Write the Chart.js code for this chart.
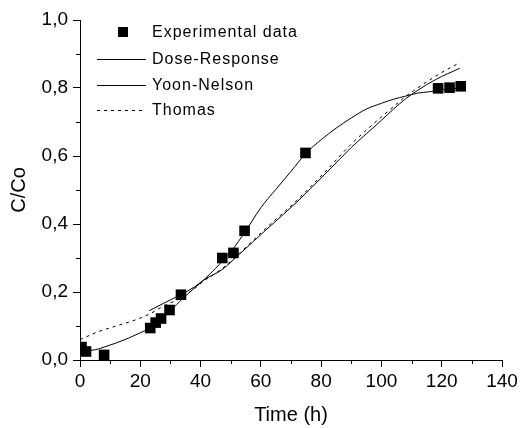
<!DOCTYPE html>
<html>
<head>
<meta charset="utf-8">
<script src="https://cdn.jsdelivr.net/npm/chart.js@4"></script>
<style>
  html, body { margin: 0; padding: 0; background: #fff; }
  #wrap { width: 522px; height: 428px; }
</style>
</head>
<body>
<div id="wrap"><canvas id="chart"></canvas></div>
<script>
// experimental points
const expTime = [0.5, 2, 8, 23.3, 25.1, 26.9, 29.7, 33.5, 47.2, 50.9, 54.6, 74.8, 118.8, 122.6, 126.3];
const expC = [0.038, 0.025, 0.015, 0.094, 0.11, 0.122, 0.147, 0.192, 0.30, 0.315, 0.38, 0.609, 0.799, 0.801, 0.805];

// Dose-Response fit
const drTime = [0, 2, 5, 8, 12, 16, 20, 23, 26, 30, 34, 38, 41, 45, 50, 55, 60, 65, 70, 75, 80, 85, 90, 95, 100, 104, 108, 112, 116, 120, 126];
const drC = [0.036, 0.028, 0.03, 0.038, 0.05, 0.064, 0.08, 0.093, 0.112, 0.145, 0.18, 0.212, 0.235, 0.27, 0.318, 0.38, 0.448, 0.502, 0.555, 0.608, 0.648, 0.682, 0.712, 0.738, 0.755, 0.767, 0.776, 0.785, 0.789, 0.795, 0.80];

// Yoon-Nelson fit
const ynTime = [23, 28, 33, 38, 41, 47, 53, 62, 72, 82, 90, 100, 104, 108, 112, 118, 126];
const ynC = [0.145, 0.168, 0.19, 0.215, 0.235, 0.265, 0.312, 0.385, 0.465, 0.553, 0.625, 0.705, 0.738, 0.768, 0.793, 0.825, 0.858];

// Thomas fit
const thTime = [0, 6, 12, 19, 23, 28, 33, 38, 41, 47, 53, 62, 72, 82, 90, 100, 104, 108, 112, 118, 126];
const thC = [0.06, 0.083, 0.10, 0.12, 0.135, 0.16, 0.18, 0.21, 0.232, 0.268, 0.315, 0.39, 0.47, 0.56, 0.635, 0.715, 0.745, 0.775, 0.80, 0.835, 0.875];

const seriesNames = ['Experimental data', 'Dose-Response', 'Yoon-Nelson', 'Thomas'];

const pts = (xs, ys) => xs.map((x, i) => ({ x: x, y: ys[i] }));
const FONT = "'Liberation Sans', Arial, sans-serif";

// short minor ticks, plus the legend inside the plot
const extras = {
  id: 'extras',
  afterDraw(chart) {
    const ctx = chart.ctx;
    const xs = chart.scales.x, ys = chart.scales.y;
    ctx.save();
    ctx.strokeStyle = '#000';
    ctx.lineWidth = 1;
    xs.ticks.forEach(t => {
      if (t.value % 20 !== 0) {
        const px = Math.round(xs.getPixelForValue(t.value)) + 0.5;
        ctx.beginPath(); ctx.moveTo(px, xs.top); ctx.lineTo(px, xs.top + 4); ctx.stroke();
      }
    });
    ys.ticks.forEach(t => {
      if (Math.round(t.value * 10) % 2 !== 0) {
        const py = Math.round(ys.getPixelForValue(t.value)) + 0.5;
        ctx.beginPath(); ctx.moveTo(ys.right, py); ctx.lineTo(ys.right - 4, py); ctx.stroke();
      }
    });

    // legend
    ctx.font = '16px ' + FONT;
    ctx.letterSpacing = '1px';
    ctx.fillStyle = '#000';
    ctx.textBaseline = 'middle';
    const rows = [32, 59, 85, 110];
    chart.data.datasets.forEach((ds, i) => {
      const y = rows[i];
      if (i === 0) {
        ctx.fillRect(118, y - 5, 10, 10);
      } else {
        ctx.setLineDash(ds.borderDash || []);
        ctx.beginPath(); ctx.moveTo(97, y + 0.5); ctx.lineTo(146, y + 0.5); ctx.stroke();
        ctx.setLineDash([]);
      }
      ctx.fillText(ds.label, 152, y + 1);
    });
    ctx.restore();
  }
};

const lineDs = (label, xs, ys, dash) => ({
  label: label,
  data: pts(xs, ys),
  showLine: true,
  borderColor: '#000',
  borderWidth: 1,
  borderDash: dash,
  pointRadius: 0,
  cubicInterpolationMode: 'monotone',
  fill: false
});

new Chart(document.getElementById('chart'), {
  type: 'scatter',
  data: {
    datasets: [
      {
        label: seriesNames[0],
        data: pts(expTime, expC),
        pointStyle: 'rect',
        pointRadius: 7.5,
        backgroundColor: '#000',
        borderColor: '#000',
        borderWidth: 0,
        order: 0
      },
      lineDs(seriesNames[1], drTime, drC, []),
      lineDs(seriesNames[2], ynTime, ynC, []),
      lineDs(seriesNames[3], thTime, thC, [3, 4])
    ]
  },
  options: {
    responsive: true,
    maintainAspectRatio: false,
    animation: false,
    layout: { padding: { left: 0, right: 20, top: 20, bottom: 0 } },
    plugins: {
      legend: { display: false },
      tooltip: { enabled: false }
    },
    scales: {
      x: {
        type: 'linear',
        min: 0, max: 140,
        afterFit: s => { s.height = 68; },
        border: { color: '#000', width: 1 },
        grid: {
          drawOnChartArea: false,
          tickLength: 7,
          tickColor: c => (c.tick && c.tick.value % 20 === 0) ? '#000' : 'rgba(0,0,0,0)'
        },
        ticks: {
          stepSize: 10,
          autoSkip: false,
          maxRotation: 0,
          padding: 3,
          color: '#000',
          font: { family: FONT, size: 19 },
          callback: v => v % 20 === 0 ? String(v) : ''
        },
        title: {
          display: true,
          text: 'Time (h)',
          color: '#000',
          font: { family: FONT, size: 20 },
          padding: { top: 0, bottom: 1 }
        }
      },
      y: {
        min: 0, max: 1,
        afterFit: s => { s.width = 80; },
        border: { color: '#000', width: 1 },
        grid: {
          drawOnChartArea: false,
          tickLength: 7,
          tickColor: c => (c.tick && Math.round(c.tick.value * 10) % 2 === 0) ? '#000' : 'rgba(0,0,0,0)'
        },
        ticks: {
          stepSize: 0.1,
          autoSkip: false,
          padding: 5,
          color: '#000',
          font: { family: FONT, size: 19 },
          callback: v => Math.round(v * 10) % 2 === 0 ? v.toFixed(1).replace('.', ',') : ''
        },
        title: {
          display: true,
          text: 'C/Co',
          color: '#000',
          font: { family: FONT, size: 20 },
          padding: { top: 7, bottom: 0 }
        }
      }
    }
  },
  plugins: [extras]
});
</script>
</body>
</html>
